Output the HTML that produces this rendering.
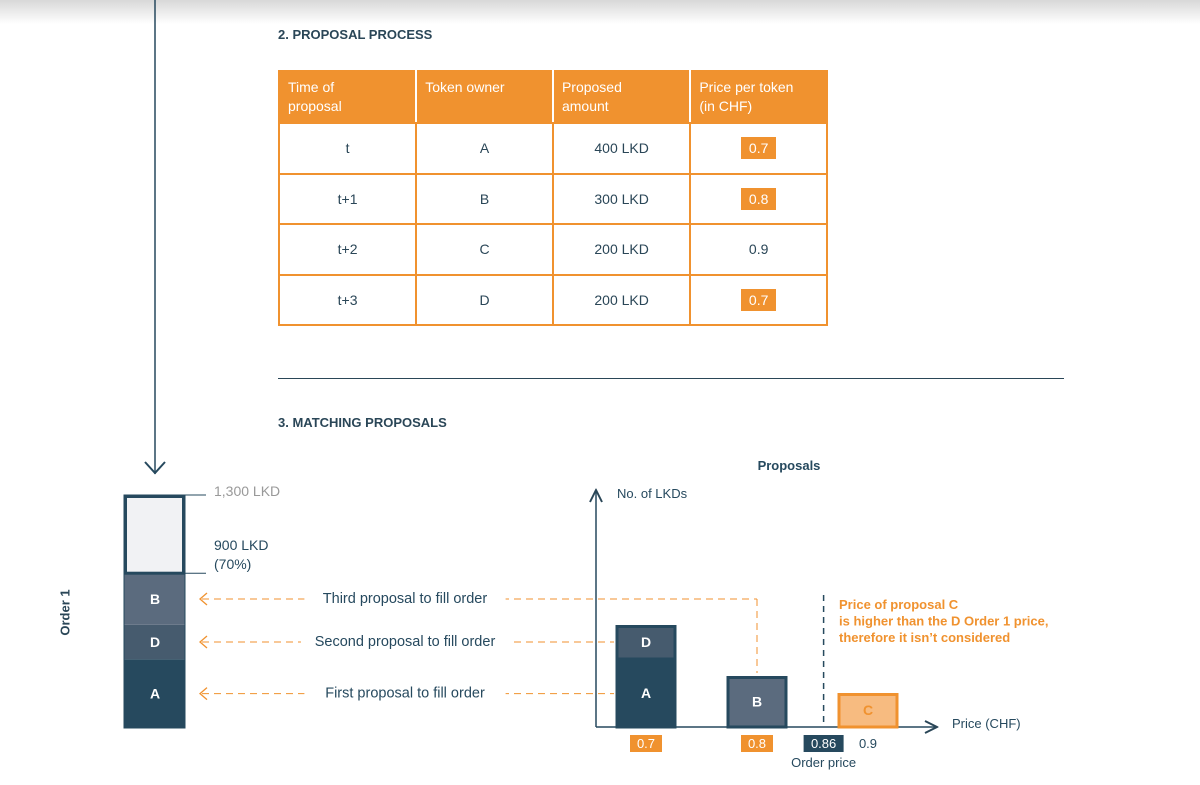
<!DOCTYPE html>
<html><head><meta charset="utf-8"><style>
body{margin:0;width:1200px;height:785px;background:#fff;font-family:"Liberation Sans",sans-serif;position:relative;overflow:hidden;color:#2a4657}
.abs{position:absolute}
table{position:absolute;left:278px;top:70px;border-collapse:collapse;width:550px}
td{border:2px solid #f0922f;width:137px;height:48.5px;padding:0;text-align:center;font-size:14px;color:#2a4657}
th{background:#f0922f;color:#fff;font-weight:normal;text-align:left;padding:6px 8px;font-size:14px;line-height:19px;height:38px;vertical-align:top;border:2px solid #f0922f;border-right-color:#fff}
th:last-child{border-right-color:#f0922f}
.hl{background:#f0922f;color:#fff;padding:3px 8px}
</style></head><body>
<div class="abs" style="left:0;top:0;width:1200px;height:24px;background:linear-gradient(#d8d8d8,#fff)"></div>
<div class="abs" style="left:278px;top:27px;font-size:13px;font-weight:bold">2. PROPOSAL PROCESS</div>
<table>
<tr><th>Time of<br>proposal</th><th>Token owner</th><th>Proposed<br>amount</th><th>Price per token<br>(in CHF)</th></tr>
<tr><td>t</td><td>A</td><td>400 LKD</td><td><span class="hl">0.7</span></td></tr>
<tr><td>t+1</td><td>B</td><td>300 LKD</td><td><span class="hl">0.8</span></td></tr>
<tr><td>t+2</td><td>C</td><td>200 LKD</td><td>0.9</td></tr>
<tr><td>t+3</td><td>D</td><td>200 LKD</td><td><span class="hl">0.7</span></td></tr>
</table>
<div class="abs" style="left:278px;top:378px;width:786px;height:1px;background:#2a4657"></div>
<div class="abs" style="left:278px;top:415px;font-size:13px;font-weight:bold">3. MATCHING PROPOSALS</div>
<div class="abs" style="left:42px;top:605px;font-size:13px;font-weight:bold;transform:rotate(-90deg);transform-origin:center">Order 1</div>
<svg class="abs" style="left:0;top:0" width="1200" height="785" id="chart">
<defs><marker id="ah" markerWidth="10" markerHeight="10" refX="9" refY="5" orient="auto"><path d="M1,1 L9,5 L1,9" fill="none" stroke="#2a4657" stroke-width="1.3"/></marker></defs>
</svg>
<script>
const owners=["A","D","B","C"];
const amounts=[400,200,300,200];
const prices=[0.7,0.7,0.8,0.9];
const orderTotal=1300, orderPrice=0.86, orderPct=70;
const stackOrder=["A","D","B"];
const stackLabels=["First proposal to fill order","Second proposal to fill order","Third proposal to fill order"];
const ticks=[0.7,0.8,0.86,0.9];
const NS="http://www.w3.org/2000/svg";
const svg=document.getElementById('chart');
function el(t,a,p){const e=document.createElementNS(NS,t);for(const k in a)e.setAttribute(k,a[k]);(p||svg).appendChild(e);return e;}
const px=v=>646+(v-0.7)*1110, base=727, py=v=>base-v*0.17;
const sBase=728, sy=v=>sBase-v*0.18;
const dark="#26495e", orange="#f0922f";
const fills={A:"#26495e",D:"#465b6e",B:"#5b6b7e",C:"#f7bb80"};
let l=el('line',{x1:155,y1:0,x2:155,y2:474,stroke:dark,'stroke-width':1.5});

el('path',{d:'M145,462 L155,473 L165,462',fill:'none',stroke:dark,'stroke-width':2});
const amt=o=>amounts[owners.indexOf(o)];
let cum=0;const mids=[];
const sScale=0.172;
stackOrder.forEach((o,i)=>{const y0=sBase-cum*sScale,y1=sBase-(cum+amt(o))*sScale;
 let r=el('rect',{x:124,y:y1,width:61,height:y0-y1,fill:fills[o]});
 
 let t=el('text',{x:155,y:(y0+y1)/2+5,'text-anchor':'middle',fill:'#fff','font-size':14,'font-weight':'bold'});t.textContent=o;
 mids.push((y0+y1)/2);cum+=amt(o);});
const filledY=sBase-cum*sScale, topY=sy(orderTotal)+1;
let e=el('rect',{x:125.5,y:topY+1.5,width:58,height:filledY-topY-1.5,fill:'#f1f2f4',stroke:dark,'stroke-width':3});

el('rect',{x:124,y:topY,width:61,height:sBase-topY,fill:'none',stroke:dark,'stroke-width':1});
el('line',{x1:185,y1:topY,x2:206,y2:topY,stroke:dark});
el('line',{x1:185,y1:filledY,x2:206,y2:filledY,stroke:dark});
let t1=el('text',{x:214,y:topY+1,fill:'#999','font-size':14});t1.textContent=orderTotal.toLocaleString('en-US')+' LKD';
let t2=el('text',{x:214,y:filledY-23,fill:dark,'font-size':14});t2.textContent=cum+' LKD';
let t3=el('text',{x:214,y:filledY-4,fill:dark,'font-size':14});t3.textContent='('+orderPct+'%)';
el('line',{x1:596,y1:base,x2:596,y2:490,stroke:dark,'stroke-width':1.5,'marker-end':'url(#ah)'});
el('line',{x1:596,y1:base,x2:937,y2:base,stroke:dark,'stroke-width':1.5,'marker-end':'url(#ah)'});
let ty=el('text',{x:617,y:498,fill:dark,'font-size':13});ty.textContent='No. of LKDs';
let tx=el('text',{x:952,y:728,fill:dark,'font-size':13});tx.textContent='Price (CHF)';
let tp=el('text',{x:789,y:470,fill:dark,'font-size':13,'font-weight':'bold','text-anchor':'middle'});tp.textContent='Proposals';
const stackAt={};const barTop={};
owners.forEach((o,i)=>{const p=prices[i];const s=stackAt[p]||0;const y0=py(s),y1=py(s+amounts[i]);stackAt[p]=s+amounts[i];
 const cx=px(p);const isC=p>orderPrice;
 let r=el('rect',{x:cx-29,y:y1+1.5,width:58,height:y0-y1-1.5,fill:fills[o],stroke:isC?orange:dark,'stroke-width':3});
 
 let t=el('text',{x:cx,y:(y0+y1)/2+5,'text-anchor':'middle',fill:isC?orange:'#fff','font-size':14,'font-weight':'bold'});t.textContent=o;
 barTop[o]=y1;});
stackOrder.forEach((o,i)=>{const y=mids[i];const cx=px(prices[owners.indexOf(o)]);
 el('path',{d:`M207,${y-6} L200,${y} L207,${y+6}`,fill:'none',stroke:orange,'stroke-width':1.3});
 const endX= o==="B"? cx : 614;
 el('line',{x1:202,y1:y,x2:endX,y2:y,stroke:orange,'stroke-dasharray':'7,5','stroke-width':1});
 if(o==="B") el('line',{x1:cx,y1:y,x2:cx,y2:barTop[o]-3,stroke:orange,'stroke-dasharray':'7,5'});
 const tw=stackLabels[i].length*6.9;
 el('rect',{x:405-tw/2-4,y:y-10,width:tw+8,height:20,fill:'#fff'});
 let t=el('text',{x:405,y:y+4,'text-anchor':'middle',fill:dark,'font-size':14.5});t.textContent=stackLabels[i];});
el('line',{x1:px(orderPrice),y1:595,x2:px(orderPrice),y2:base,stroke:dark,'stroke-dasharray':'6,5','stroke-width':1.5});
["Price of proposal C","is higher than the D Order 1 price,","therefore it isn’t considered"].forEach((s,i)=>{let t=el('text',{x:839,y:609+i*16.5,fill:orange,'font-size':13,'font-weight':'bold'});t.textContent=s;});
ticks.forEach(v=>{const cx=px(v);const s=String(v);const w=s.length*8+8;
 const isO=v===orderPrice, isHl=prices.some((p,i)=>p===v&&p<=orderPrice);
 if(isO||isHl){let r=el('rect',{x:cx-w/2,y:735,width:w,height:17,fill:isO?dark:orange});}
 let t=el('text',{x:cx,y:748,'text-anchor':'middle',fill:(isO||isHl)?'#fff':dark,'font-size':13});t.textContent=s;});
let op=el('text',{x:px(orderPrice),y:767,'text-anchor':'middle',fill:dark,'font-size':13});op.textContent='Order price';
</script>
</body></html>
